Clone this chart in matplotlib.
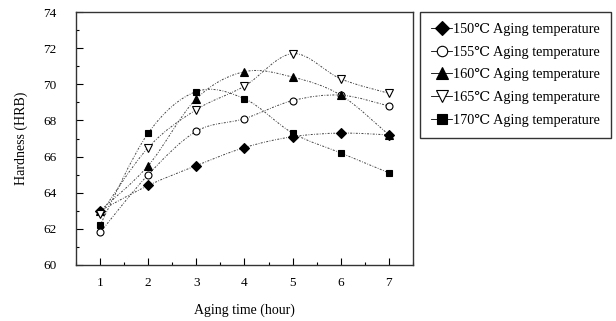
import numpy as np
import matplotlib
matplotlib.use('Agg')
import matplotlib.pyplot as plt
from matplotlib.path import Path
from matplotlib.patches import PathPatch
from matplotlib.lines import Line2D
from matplotlib.ticker import MultipleLocator

plt.rcParams['font.family'] = ['Liberation Serif', 'DejaVu Serif']

hours = [1, 2, 3, 4, 5, 6, 7]
hrb_150 = [63.0, 64.4, 65.5, 66.5, 67.1, 67.3, 67.2]
hrb_155 = [61.8, 65.0, 67.4, 68.1, 69.1, 69.4, 68.8]
hrb_160 = [63.0, 65.5, 69.2, 70.7, 70.4, 69.4, 67.2]
hrb_165 = [62.8, 66.5, 68.6, 69.9, 71.7, 70.3, 69.5]
hrb_170 = [62.2, 67.3, 69.6, 69.2, 67.3, 66.2, 65.1]

labels = ['150\u2103 Aging temperature', '155\u2103 Aging temperature',
          '160\u2103 Aging temperature', '165\u2103 Aging temperature',
          '170\u2103 Aging temperature']
series = [hrb_150, hrb_155, hrb_160, hrb_165, hrb_170]
markers = ['D', 'o', '^', 'v', 's']
faces = ['black', 'white', 'black', 'white', 'black']
sizes = [5, 5, 5.5, 5.5, 4.5]

dash = (0, (2, 1.5, 0.8, 1.5))


def smooth_path(x, y):
    # excel-like smoothed line as cubic bezier through the points
    p = np.column_stack([x, y]).astype(float)
    ext = np.vstack([p[0], p, p[-1]])
    verts = [p[0]]
    codes = [Path.MOVETO]
    for i in range(len(p) - 1):
        c1 = ext[i + 1] + (ext[i + 2] - ext[i]) / 6
        c2 = ext[i + 2] - (ext[i + 3] - ext[i + 1]) / 6
        verts += [c1, c2, ext[i + 2]]
        codes += [Path.CURVE4] * 3
    return Path(verts, codes)


fig = plt.figure(figsize=(6.16, 3.21), dpi=100)
ax = fig.add_axes([0.1234, 0.1745, 0.547, 0.788])

handles = []
for ys, m, fc, ms, lab in zip(series, markers, faces, sizes, labels):
    ax.add_patch(PathPatch(smooth_path(hours, ys), fill=False, ec='#444444',
                           lw=0.7, ls=dash))
    ax.plot(hours, ys, ls='none', marker=m, ms=ms, mfc=fc, mec='black',
            mew=0.8, zorder=3)
    handles.append(Line2D([], [], color='black', lw=0.6, marker=m, ms=ms + 2.5,
                          mfc=fc, mec='black', mew=0.8, label=lab))

ax.set_xlim(0.5, 7.5)
ax.set_ylim(60, 74)
ax.xaxis.set_major_locator(MultipleLocator(1))
ax.xaxis.set_minor_locator(MultipleLocator(0.5))
ax.yaxis.set_major_locator(MultipleLocator(2))
ax.yaxis.set_minor_locator(MultipleLocator(1))
ax.tick_params(which='both', direction='in', labelsize=9.5)
ax.tick_params(which='major', length=5, width=0.8)
ax.tick_params(which='minor', length=2.5, width=0.8)
ax.tick_params(axis='x', pad=9)
ax.tick_params(axis='y', pad=14)
for s in ax.spines.values():
    s.set_linewidth(1.0)
    s.set_color('#333333')

ax.set_xlabel('Aging time (hour)', fontsize=10, labelpad=10)
ax.set_ylabel('Hardness (HRB)', fontsize=10, labelpad=11)

leg = fig.legend(handles=handles, loc='upper left',
                 bbox_to_anchor=(0.682, 0.962), borderaxespad=0, fontsize=10.3,
                 handlelength=1.5, handletextpad=0.05, labelspacing=0.68,
                 borderpad=0.75, fancybox=False, framealpha=1,
                 edgecolor='#333333')
leg.get_frame().set_linewidth(1.0)

fig.savefig('out.png', dpi=100)
